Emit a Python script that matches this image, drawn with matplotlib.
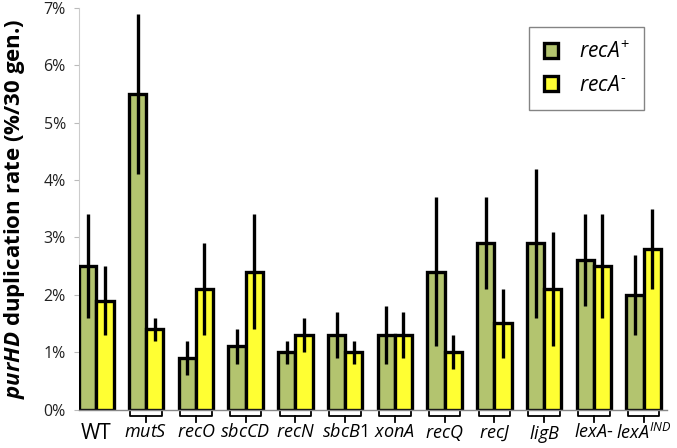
import matplotlib
matplotlib.use("Agg")
import matplotlib.pyplot as plt
from matplotlib.patches import Patch
from matplotlib.transforms import blended_transform_factory
import numpy as np

plt.rcParams['font.family'] = ['Open Sans', 'DejaVu Sans']
plt.rcParams['mathtext.fontset'] = 'custom'
plt.rcParams['mathtext.rm'] = 'Open Sans'
plt.rcParams['mathtext.it'] = 'Open Sans:italic'
plt.rcParams['mathtext.bf'] = 'Open Sans:bold'
plt.rcParams['mathtext.bfit'] = 'Open Sans:italic:bold'

# ---- data ----
strains = ['WT', 'mutS', 'recO', 'sbcCD', 'recN', 'sbcB1', 'xonA', 'recQ', 'recJ', 'ligB', 'lexA-', 'lexAIND']
tick_labels = ['WT', r'$\mathit{mutS}$', r'$\mathit{recO}$', r'$\mathit{sbcCD}$', r'$\mathit{recN}$',
               r'$\mathit{sbcB1}$', r'$\mathit{xonA}$', r'$\mathit{recQ}$', r'$\mathit{recJ}$',
               r'$\mathit{ligB}$', r'$\mathit{lexA}$-', r'$\mathit{lexA}^{\mathit{IND}}$']
recA_plus = [2.5, 5.5, 0.9, 1.1, 1.0, 1.3, 1.3, 2.4, 2.9, 2.9, 2.6, 2.0]
recA_plus_err = [0.9, 1.4, 0.3, 0.3, 0.2, 0.4, 0.5, 1.3, 0.8, 1.3, 0.8, 0.7]
recA_minus = [1.9, 1.4, 2.1, 2.4, 1.3, 1.0, 1.3, 1.0, 1.5, 2.1, 2.5, 2.8]
recA_minus_err = [0.6, 0.2, 0.8, 1.0, 0.3, 0.2, 0.4, 0.3, 0.6, 1.0, 0.9, 0.7]
yticks = [0, 1, 2, 3, 4, 5, 6, 7]
ytick_labels = ['0%', '1%', '2%', '3%', '4%', '5%', '6%', '7%']
series_labels = [r'$\mathit{recA}^{+}$', r'$\mathit{recA}^{\text{-}}$']

green = '#B3C46F'
yellow = '#FFFF33'

fig = plt.figure(figsize=(6.77, 4.48), dpi=100)
ax = fig.add_axes([79/677, 38.5/448, 588/677, 401.5/448])

x = np.arange(len(strains))
w = 0.345
ax.bar(x - w/2, recA_plus, w, color=green, edgecolor='black', linewidth=2.4, zorder=3)
ax.bar(x + w/2, recA_minus, w, color=yellow, edgecolor='black', linewidth=2.4, zorder=3)
ax.errorbar(x - w/2, recA_plus, yerr=recA_plus_err, fmt='none', ecolor='black',
            elinewidth=2.4, capsize=0, zorder=4)
ax.errorbar(x + w/2, recA_minus, yerr=recA_minus_err, fmt='none', ecolor='black',
            elinewidth=2.4, capsize=0, zorder=4)

ax.set_xlim(-0.35, 11.47)
ax.set_ylim(0, 7)
ax.set_yticks(yticks)
ax.set_yticklabels(ytick_labels, fontsize=11.5, color='#222222')
ax.set_xticks(x)
ax.set_xticklabels(tick_labels, fontsize=13)
for lbl in ax.get_xticklabels():
    if lbl.get_text() == 'WT':
        lbl.set_fontsize(15)
ax.tick_params(axis='x', length=0, pad=10)
ax.tick_params(axis='y', length=3.5, color='#BBBBBB', width=0.8, pad=6)

for s in ['top', 'right']:
    ax.spines[s].set_visible(False)
ax.spines['left'].set_color('#CCCCCC')
ax.spines['left'].set_linewidth(0.8)
ax.spines['bottom'].set_color('#888888')
ax.spines['bottom'].set_linewidth(1.0)
ax.spines['bottom'].set_zorder(5)

# brackets below the axis for mutant groups
trans = blended_transform_factory(ax.transData, ax.transAxes)
dy1 = -6.5/401.5
dy2 = -12/401.5
for xi in x[1:]:
    ax.plot([xi - w + 0.03, xi - w + 0.03, xi + w - 0.03, xi + w - 0.03], [0, dy1, dy1, 0],
            color='black', lw=1.3, transform=trans, clip_on=False, zorder=5)
    ax.plot([xi, xi], [dy1, dy2], color='black', lw=1.3, transform=trans, clip_on=False, zorder=5)

ax.set_ylabel(r'$\mathbfit{purHD}$ duplication rate (%/30 gen.)', fontsize=16,
              fontweight='bold', labelpad=12)

handles = [Patch(facecolor=green, edgecolor='black', linewidth=2.4),
           Patch(facecolor=yellow, edgecolor='black', linewidth=2.4)]
leg = ax.legend(handles, series_labels, loc='upper left',
                bbox_to_anchor=((529 - 79)/588, (409.5 - 27)/401.5),
                fontsize=15, frameon=True, fancybox=False, handlelength=0.7,
                handleheight=0.7, handletextpad=1.0, borderpad=0.7, labelspacing=0.55,
                borderaxespad=0)
leg.get_frame().set_edgecolor('#666666')
leg.get_frame().set_linewidth(1.0)

fig.savefig('out.png', dpi=100)
